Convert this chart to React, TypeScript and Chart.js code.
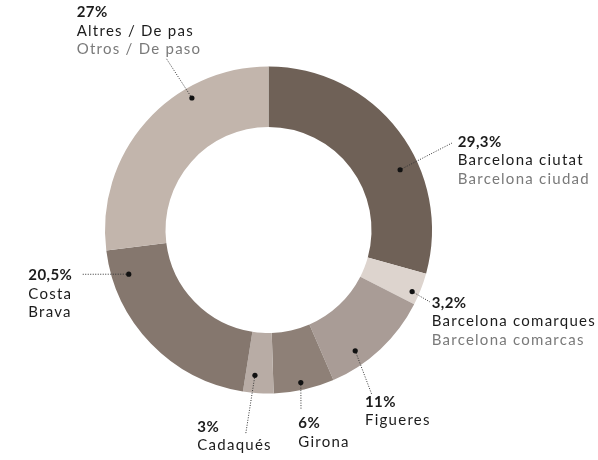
import React, { useEffect, useRef } from "react";
import { Chart, registerables } from "chart.js";

Chart.register(...registerables);

const categories = [
  "Barcelona ciutat",
  "Barcelona comarques",
  "Figueres",
  "Girona",
  "Cadaqués",
  "Costa Brava",
  "Altres / De pas",
];
const secondaryNames = ["Barcelona ciudad", "Barcelona comarcas", "", "", "", "", "Otros / De paso"];
const shares = [29.3, 3.2, 11, 6, 3, 20.5, 27];
const shareLabels = ["29,3%", "3,2%", "11%", "6%", "3%", "20,5%", "27%"];
const colors = ["#6f6157", "#ddd4ce", "#a99c96", "#8e8077", "#b8aca5", "#85776e", "#c2b5ac"];

// label layout: dot position inside arc (angle fraction t, radial fraction r), line end, text anchor, lines
const labelLayout = [
  { t: 0.62, r: 0.69, lx: 452, ly: 143, tx: 457.7, ty: 146.7, lines: ["29,3%", "Barcelona ciutat", "Barcelona ciudad"] },
  { t: 0.67, r: 0.88, lx: 430, ly: 302, tx: 431.7, ty: 307.7, lines: ["3,2%", "Barcelona comarques", "Barcelona comarcas"] },
  { t: 0.69, r: 0.755, lx: 372, ly: 395, tx: 365, ty: 406.7, lines: ["11%", "Figueres"] },
  { t: 0.53, r: 0.876, lx: 301, ly: 410, tx: 298.3, ty: 428.3, lines: ["6%", "Girona"] },
  { t: 0.66, r: 0.71, lx: 245.7, ly: 434, tx: 197.3, ty: 431.7, lines: ["3%", "Cadaqués"] },
  { t: 0.86, r: 0.72, lx: 82, ly: 274.3, tx: 28.3, ty: 280, lines: ["20,5%", "Costa", "Brava"] },
  { t: 0.69, r: 0.82, lx: 166, ly: 58, tx: 76.7, ty: 17, lines: ["27%", "Altres / De pas", "Otros / De paso"] },
];

const FONT = "Lato";

const labelPlugin = {
  id: "leaderLabels",
  afterDatasetsDraw(chart: any) {
    const ctx = chart.ctx;
    const meta = chart.getDatasetMeta(0);
    meta.data.forEach((arc: any, i: number) => {
      const L = labelLayout[i];
      const p = arc.getProps(["x", "y", "startAngle", "endAngle", "innerRadius", "outerRadius"], true);
      const ang = p.startAngle + (p.endAngle - p.startAngle) * L.t;
      const rad = p.innerRadius + (p.outerRadius - p.innerRadius) * L.r;
      const dx = p.x + Math.cos(ang) * rad;
      const dy = p.y + Math.sin(ang) * rad;
      ctx.save();
      ctx.strokeStyle = "#333";
      ctx.lineWidth = 1;
      ctx.setLineDash([1, 1.5]);
      ctx.beginPath();
      ctx.moveTo(dx, dy);
      ctx.lineTo(L.lx, L.ly);
      ctx.stroke();
      ctx.setLineDash([]);
      ctx.fillStyle = "#111";
      ctx.beginPath();
      ctx.arc(dx, dy, 2.6, 0, Math.PI * 2);
      ctx.fill();
      ctx.textAlign = "left";
      ctx.textBaseline = "alphabetic";
      const pct = shareLabels[i];
      const sec = secondaryNames[i];
      const lines = L.lines;
      lines.forEach((txt: string, k: number) => {
        if (k === 0) {
          ctx.font = `bold 15px ${FONT}`;
          ctx.fillStyle = "#1c1c1c";
          (ctx as any).letterSpacing = "0.4px";
          txt = pct;
        } else if (sec && k === lines.length - 1) {
          ctx.font = `15px ${FONT}`;
          ctx.fillStyle = "#7a7a7a";
          (ctx as any).letterSpacing = "1.25px";
          txt = sec;
        } else {
          ctx.font = `15px ${FONT}`;
          ctx.fillStyle = "#1c1c1c";
          (ctx as any).letterSpacing = "1.25px";
        }
        ctx.fillText(txt, L.tx, L.ty + k * 18.7);
      });
      (ctx as any).letterSpacing = "0px";
      ctx.restore();
    });
  },
};

export default function App() {
  const ref = useRef<HTMLCanvasElement>(null);
  useEffect(() => {
    if (!ref.current) return;
    const chart = new Chart(ref.current, {
      type: "doughnut",
      data: {
        labels: categories,
        datasets: [
          {
            data: shares,
            backgroundColor: colors,
            borderWidth: 0,
          },
        ],
      },
      options: {
        responsive: false,
        animation: false,
        events: [],
        cutout: "63%",
        layout: { padding: { top: 66.5, bottom: 66.5, left: 105, right: 166 } },
        plugins: { legend: { display: false }, tooltip: { enabled: false } },
      },
      plugins: [labelPlugin],
    });
    return () => chart.destroy();
  }, []);
  return (
    <canvas
      ref={ref}
      width={598}
      height={460}
      style={{ position: "fixed", left: 0, top: 0, width: 598, height: 460, background: "#fff" }}
    />
  );
}
